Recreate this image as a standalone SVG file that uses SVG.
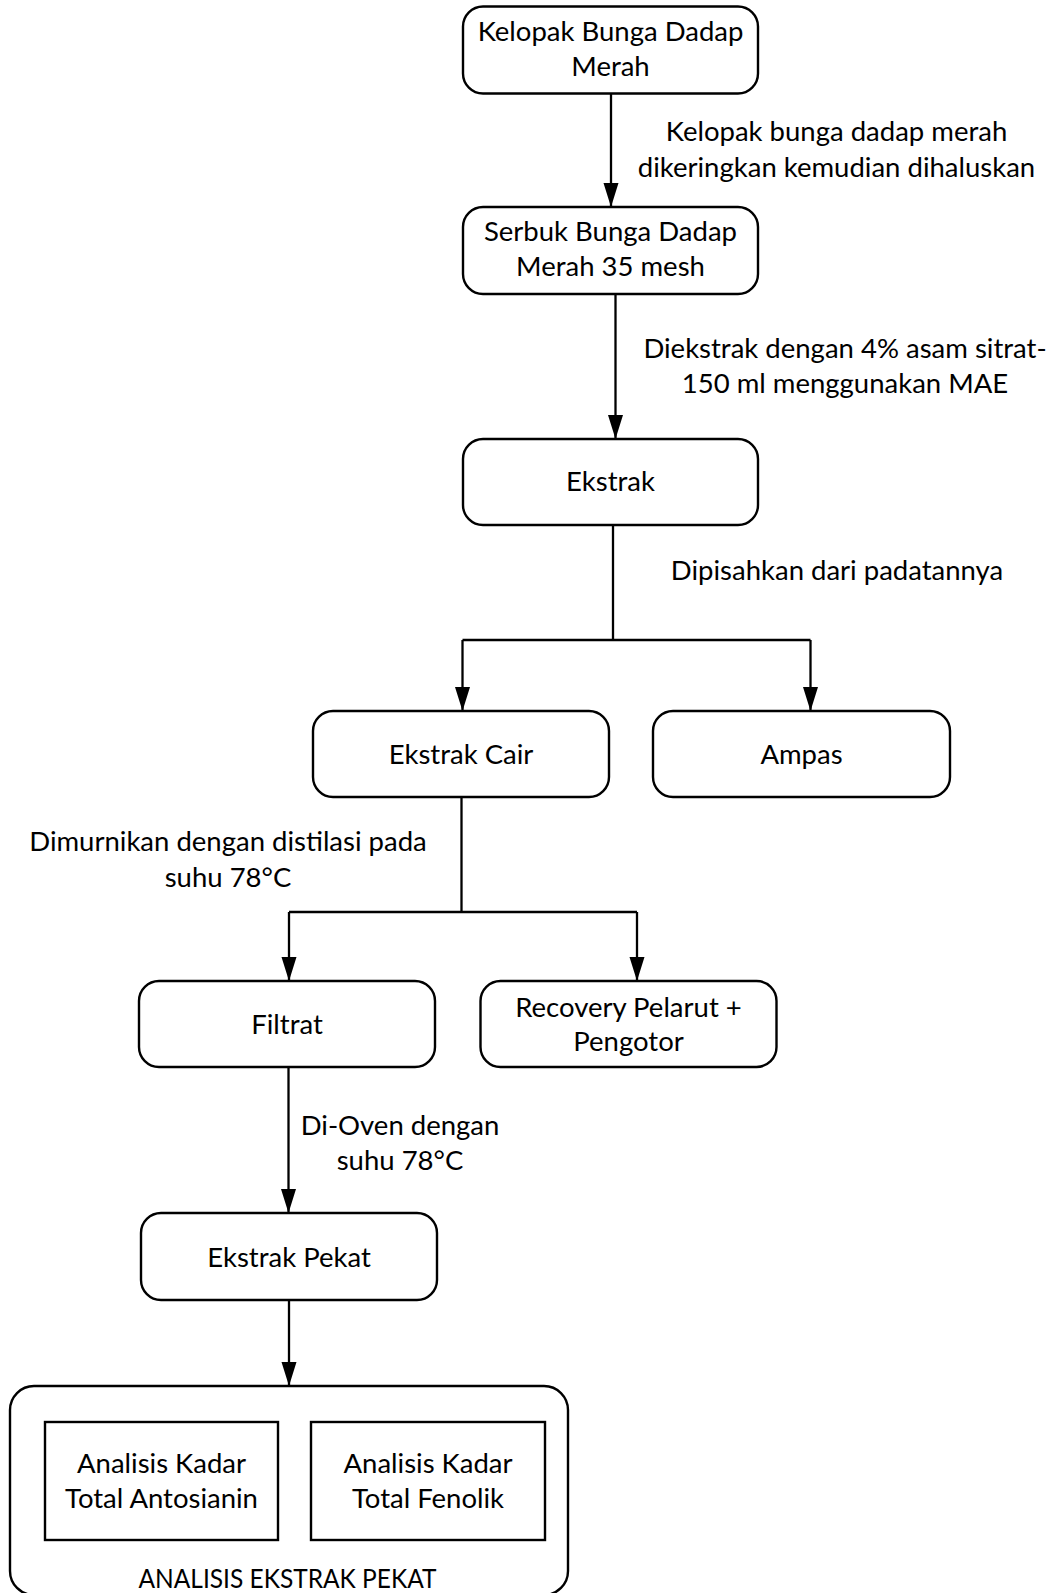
<svg xmlns="http://www.w3.org/2000/svg" width="1055" height="1593" viewBox="0 0 1055 1593">
<style>
  .box { fill: #ffffff; stroke: #000000; stroke-width: 2.4; }
  .sq { fill: #ffffff; stroke: #000000; stroke-width: 2.4; }
  .conn { fill: none; stroke: #000000; stroke-width: 2.3; }
  text { font-family: Lato, "Open Sans", sans-serif; font-size: 27.5px; fill: #000000; }
  .c { text-anchor: middle; }
</style>
<defs>
  <marker id="arrow" markerUnits="userSpaceOnUse" viewBox="0 -8 24 16" refX="24" refY="0" markerWidth="24" markerHeight="16" orient="auto">
    <path d="M0,-7.5 L24,0 L0,7.5 Z" fill="#000000"/>
  </marker>
</defs>
<rect width="1055" height="1593" fill="#ffffff"/>

<g id="connectors">
  <line class="conn" x1="611" y1="93.5" x2="611" y2="207" marker-end="url(#arrow)"/>
  <line class="conn" x1="615.5" y1="294" x2="615.5" y2="439" marker-end="url(#arrow)"/>
  <polyline class="conn" points="613,525 613,640"/>
  <polyline class="conn" points="462.5,640 810.5,640"/>
  <line class="conn" x1="462.5" y1="640" x2="462.5" y2="711" marker-end="url(#arrow)"/>
  <line class="conn" x1="810.5" y1="640" x2="810.5" y2="711" marker-end="url(#arrow)"/>
  <polyline class="conn" points="461.5,797 461.5,912"/>
  <polyline class="conn" points="289,912 637,912"/>
  <line class="conn" x1="289" y1="912" x2="289" y2="981" marker-end="url(#arrow)"/>
  <line class="conn" x1="637" y1="912" x2="637" y2="981" marker-end="url(#arrow)"/>
  <line class="conn" x1="288.5" y1="1067" x2="288.5" y2="1213" marker-end="url(#arrow)"/>
  <line class="conn" x1="289" y1="1300" x2="289" y2="1386" marker-end="url(#arrow)"/>
</g>

<g id="labels">
  <text class="c" x="836.5" y="141">Kelopak bunga dadap merah</text>
  <text class="c" x="836.5" y="177">dikeringkan kemudian dihaluskan</text>
  <text class="c" x="845" y="358">Diekstrak dengan 4% asam sitrat-</text>
  <text class="c" x="845" y="392.5">150 ml menggunakan MAE</text>
  <text class="c" x="837" y="580">Dipisahkan dari padatannya</text>
  <text class="c" x="228" y="850.5">Dimurnikan dengan distilasi pada</text>
  <text class="c" x="228" y="887">suhu 78°C</text>
  <text class="c" x="400" y="1135">Di-Oven dengan</text>
  <text class="c" x="400" y="1170">suhu 78°C</text>
</g>

<g id="node-kelopak">
  <rect class="box" x="463" y="6.5" width="295" height="87" rx="20" ry="20"/>
  <text class="c" x="610.5" y="41">Kelopak Bunga Dadap</text>
  <text class="c" x="610.5" y="76">Merah</text>
</g>
<g id="node-serbuk">
  <rect class="box" x="463" y="207" width="295" height="87" rx="20" ry="20"/>
  <text class="c" x="610.5" y="241">Serbuk Bunga Dadap</text>
  <text class="c" x="610.5" y="276">Merah 35 mesh</text>
</g>
<g id="node-ekstrak">
  <rect class="box" x="463" y="439" width="295" height="86" rx="20" ry="20"/>
  <text class="c" x="610.5" y="491">Ekstrak</text>
</g>
<g id="node-ekstrak-cair">
  <rect class="box" x="313" y="711" width="296" height="86" rx="20" ry="20"/>
  <text class="c" x="461" y="764">Ekstrak Cair</text>
</g>
<g id="node-ampas">
  <rect class="box" x="653" y="711" width="297" height="86" rx="20" ry="20"/>
  <text class="c" x="801.5" y="764">Ampas</text>
</g>
<g id="node-filtrat">
  <rect class="box" x="139" y="981" width="296" height="86" rx="20" ry="20"/>
  <text class="c" x="287" y="1034">Filtrat</text>
</g>
<g id="node-recovery">
  <rect class="box" x="480.5" y="981" width="296" height="86" rx="20" ry="20"/>
  <text class="c" x="628.5" y="1016.5">Recovery Pelarut +</text>
  <text class="c" x="628.5" y="1050.5">Pengotor</text>
</g>
<g id="node-ekstrak-pekat">
  <rect class="box" x="141" y="1213" width="296" height="87" rx="20" ry="20"/>
  <text class="c" x="289" y="1266.5">Ekstrak Pekat</text>
</g>
<g id="node-analisis">
  <rect class="box" x="10" y="1386" width="558" height="209" rx="24" ry="24"/>
  <text class="c" x="287.5" y="1588" textLength="298" lengthAdjust="spacingAndGlyphs">ANALISIS EKSTRAK PEKAT</text>
  <g id="node-antosianin">
    <rect class="sq" x="45" y="1422" width="233" height="118"/>
    <text class="c" x="161.5" y="1473">Analisis Kadar</text>
    <text class="c" x="161.5" y="1508">Total Antosianin</text>
  </g>
  <g id="node-fenolik">
    <rect class="sq" x="311" y="1422" width="234" height="118"/>
    <text class="c" x="428" y="1473">Analisis Kadar</text>
    <text class="c" x="428" y="1508">Total Fenolik</text>
  </g>
</g>
</svg>
